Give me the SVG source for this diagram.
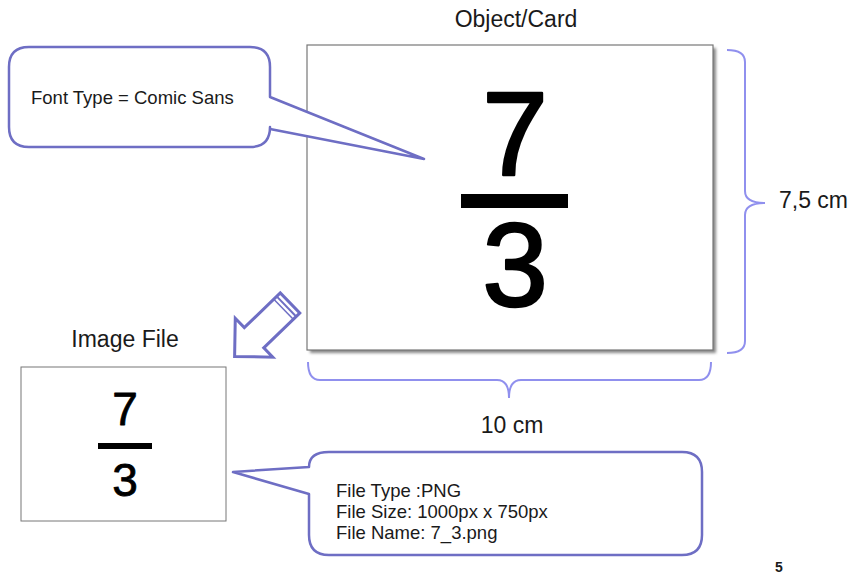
<svg xmlns="http://www.w3.org/2000/svg" width="859" height="576" viewBox="0 0 859 576">
<defs>
<filter id="sh" x="-5%" y="-5%" width="110%" height="110%"><feGaussianBlur stdDeviation="1.5"/></filter>
</defs>
<style>
.t{font-family:"Liberation Sans",Arial,sans-serif;fill:#1a1a1a}
.big{font-family:"Liberation Sans",Arial,sans-serif;fill:#000;stroke:#000;stroke-linejoin:round}
.call{fill:#fff;stroke:#6e6ec4;stroke-width:2.5;stroke-linejoin:round}
.br{fill:none;stroke:#9090ee;stroke-width:2}
</style>
<rect width="859" height="576" fill="#fff"/>
<g id="card">
<rect x="310" y="48" width="406" height="305" fill="#888" filter="url(#sh)"/>
<rect x="307" y="45" width="406" height="305" fill="#fff" stroke="#777" stroke-width="1.2"/>
<text class="big" x="515" y="175" font-size="118" text-anchor="middle" stroke-width="2.5">7</text>
<rect x="461" y="194" width="107" height="14" fill="#000"/>
<text class="big" x="515" y="306" font-size="118" text-anchor="middle" stroke-width="2.5">3</text>
</g>
<text id="card-title" class="t" x="516" y="27" font-size="23" text-anchor="middle">Object/Card</text>
<g id="callout-font">
<path class="call" d="M29,47 H250 Q270,47 270,67 V97 L424,159 L270,129 V127 Q270,147 250,147 H29 Q9,147 9,127 V67 Q9,47 29,47 Z"/>
<text class="t" x="31" y="104" font-size="18.5">Font Type = Comic Sans</text>
</g>
<g id="connectors">
<path class="br" d="M727,50 Q745,50 745,62 V191 Q745,203 765,203 Q745,203 745,215 V341 Q745,353 727,353"/>
<path class="br" d="M308,362 Q308,380 320,380 H497 Q509,380 509,398 Q509,380 521,380 H699 Q711,380 711,362"/>
<g transform="translate(290,303) rotate(136)">
<path d="M0,-14 H50 V-27 L77,0 L50,27 V14 H0 Z" fill="#fff" stroke="#6e6ec4" stroke-width="3" stroke-linejoin="miter"/>
<line x1="5" y1="-14" x2="5" y2="14" stroke="#6e6ec4" stroke-width="2"/>
<line x1="9" y1="-14" x2="9" y2="14" stroke="#6e6ec4" stroke-width="1.5"/>
</g>
</g>
<text id="h-label" class="t" x="779" y="208" font-size="23">7,5 cm</text>
<text id="w-label" class="t" x="512" y="433" font-size="23" text-anchor="middle">10 cm</text>
<text id="img-title" class="t" x="125" y="347" font-size="23" text-anchor="middle">Image File</text>
<g id="image-file">
<rect x="21" y="367" width="205" height="154" fill="#fff" stroke="#777" stroke-width="1"/>
<text class="big" x="125" y="425" font-size="46" text-anchor="middle" stroke-width="0.8">7</text>
<rect x="98" y="443" width="54" height="6" fill="#000"/>
<text class="big" x="125" y="496" font-size="46" text-anchor="middle" stroke-width="0.8">3</text>
</g>
<g id="callout-file">
<path class="call" d="M329,452 H682 Q702,452 702,472 V535 Q702,555 682,555 H329 Q309,555 309,535 V494 L233,472 L309,467 Q309,452 329,452 Z"/>
<text class="t" x="336" y="497" font-size="18.5">File Type :PNG</text>
<text class="t" x="336" y="518" font-size="18.5">File Size: 1000px x 750px</text>
<text class="t" x="336" y="539" font-size="18.5">File Name: 7_3.png</text>
</g>
<text id="page" class="t" x="775" y="572" font-size="14" font-weight="bold">5</text>
</svg>
